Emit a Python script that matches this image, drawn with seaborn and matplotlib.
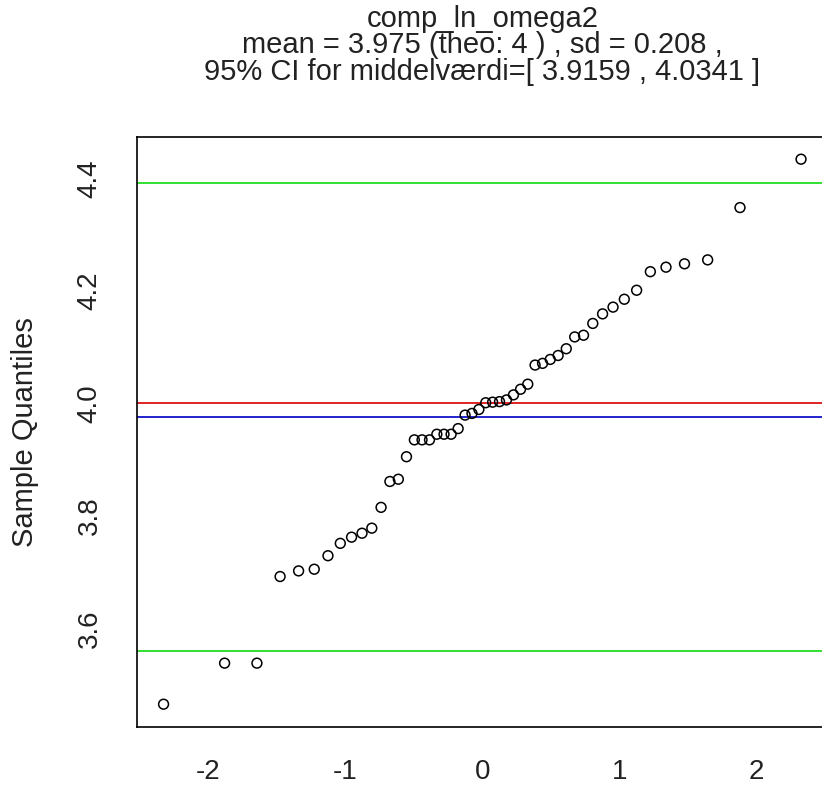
import matplotlib
matplotlib.use("Agg")
import matplotlib.pyplot as plt
import seaborn as sns
import pandas as pd
from statistics import NormalDist

# ---- data (sorted sample values) ----
sample_values = [
    3.465, 3.538, 3.538, 3.692, 3.702, 3.705, 3.729, 3.751, 3.762, 3.769,
    3.778, 3.815, 3.861, 3.865, 3.905, 3.935, 3.935, 3.935, 3.945, 3.945,
    3.945, 3.955, 3.979, 3.982, 3.989, 4.001, 4.002, 4.003, 4.006, 4.015,
    4.025, 4.034, 4.068, 4.071, 4.078, 4.085, 4.097, 4.118, 4.121, 4.142,
    4.159, 4.171, 4.185, 4.201, 4.234, 4.242, 4.248, 4.255, 4.348, 4.434,
]
theo_mean = 4.0
sample_mean = 3.975
sample_sd = 0.208
ci_low, ci_high = 3.9159, 4.0341
x_ticks = [-2, -1, 0, 1, 2]
y_ticks = [3.6, 3.8, 4.0, 4.2, 4.4]
y_tick_labels = ["3.6", "3.8", "4.0", "4.2", "4.4"]
title_lines = [
    "comp_ln_omega2",
    "mean = 3.975 (theo: 4 ) , sd = 0.208 ,",
    "95% CI for middelværdi=[ 3.9159 , 4.0341 ]",
]

# theoretical normal quantiles (as in R's qqnorm: ppoints)
n = len(sample_values)
a = 0.5 if n > 10 else 3 / 8
theoretical = [NormalDist().inv_cdf((i + 1 - a) / (n + 1 - 2 * a)) for i in range(n)]
df = pd.DataFrame({"Theoretical Quantiles": theoretical, "Sample Quantiles": sample_values})

sns.set_style("white")
plt.rcParams["font.family"] = ["Liberation Sans", "DejaVu Sans"]

fig = plt.figure(figsize=(8.22, 7.91), dpi=100)
W, H = 822, 791
left, right, top, bottom = 137.3, 827.3, 136.7, 726.7
ax = fig.add_axes([left / W, 1 - bottom / H, (right - left) / W, (bottom - top) / H])

sns.scatterplot(data=df, x="Theoretical Quantiles", y="Sample Quantiles", ax=ax,
                marker="o", s=50, facecolor="none", edgecolor="black",
                linewidth=1.1, zorder=3)

ax.axhline(theo_mean, color="#dd1111", lw=1.3, zorder=2)
ax.axhline(sample_mean, color="#1111cc", lw=1.3, zorder=2)
ax.axhline(sample_mean + 2 * sample_sd, color="#22dd22", lw=1.3, zorder=2)
ax.axhline(sample_mean - 2 * sample_sd, color="#22dd22", lw=1.3, zorder=2)

ax.set_xlim(-2.518, 2.518)
ax.set_ylim(3.425, 4.474)
ax.set_xticks(x_ticks)
ax.set_xticklabels([str(t) for t in x_ticks])
ax.set_yticks(y_ticks)
ax.set_yticklabels(y_tick_labels, rotation=90, va="center")
ax.tick_params(axis="both", direction="out", length=13, width=1.1, color="black",
               labelsize=20, labelcolor="#222222")
ax.tick_params(axis="x", pad=10)
ax.tick_params(axis="y", pad=12)
ax.set_xlabel("")
ax.set_ylabel("Sample Quantiles", fontsize=21, color="#222222")
ax.yaxis.set_label_coords((39 - left) / (right - left), 0.5)
for sp in ax.spines.values():
    sp.set_color("black")
    sp.set_linewidth(1.2)
    sp.set_visible(True)

ax.set_title("\n".join(title_lines), fontsize=21, color="#222222",
             linespacing=0.93, pad=41, loc="center")

fig.savefig("out.png", dpi=100)
